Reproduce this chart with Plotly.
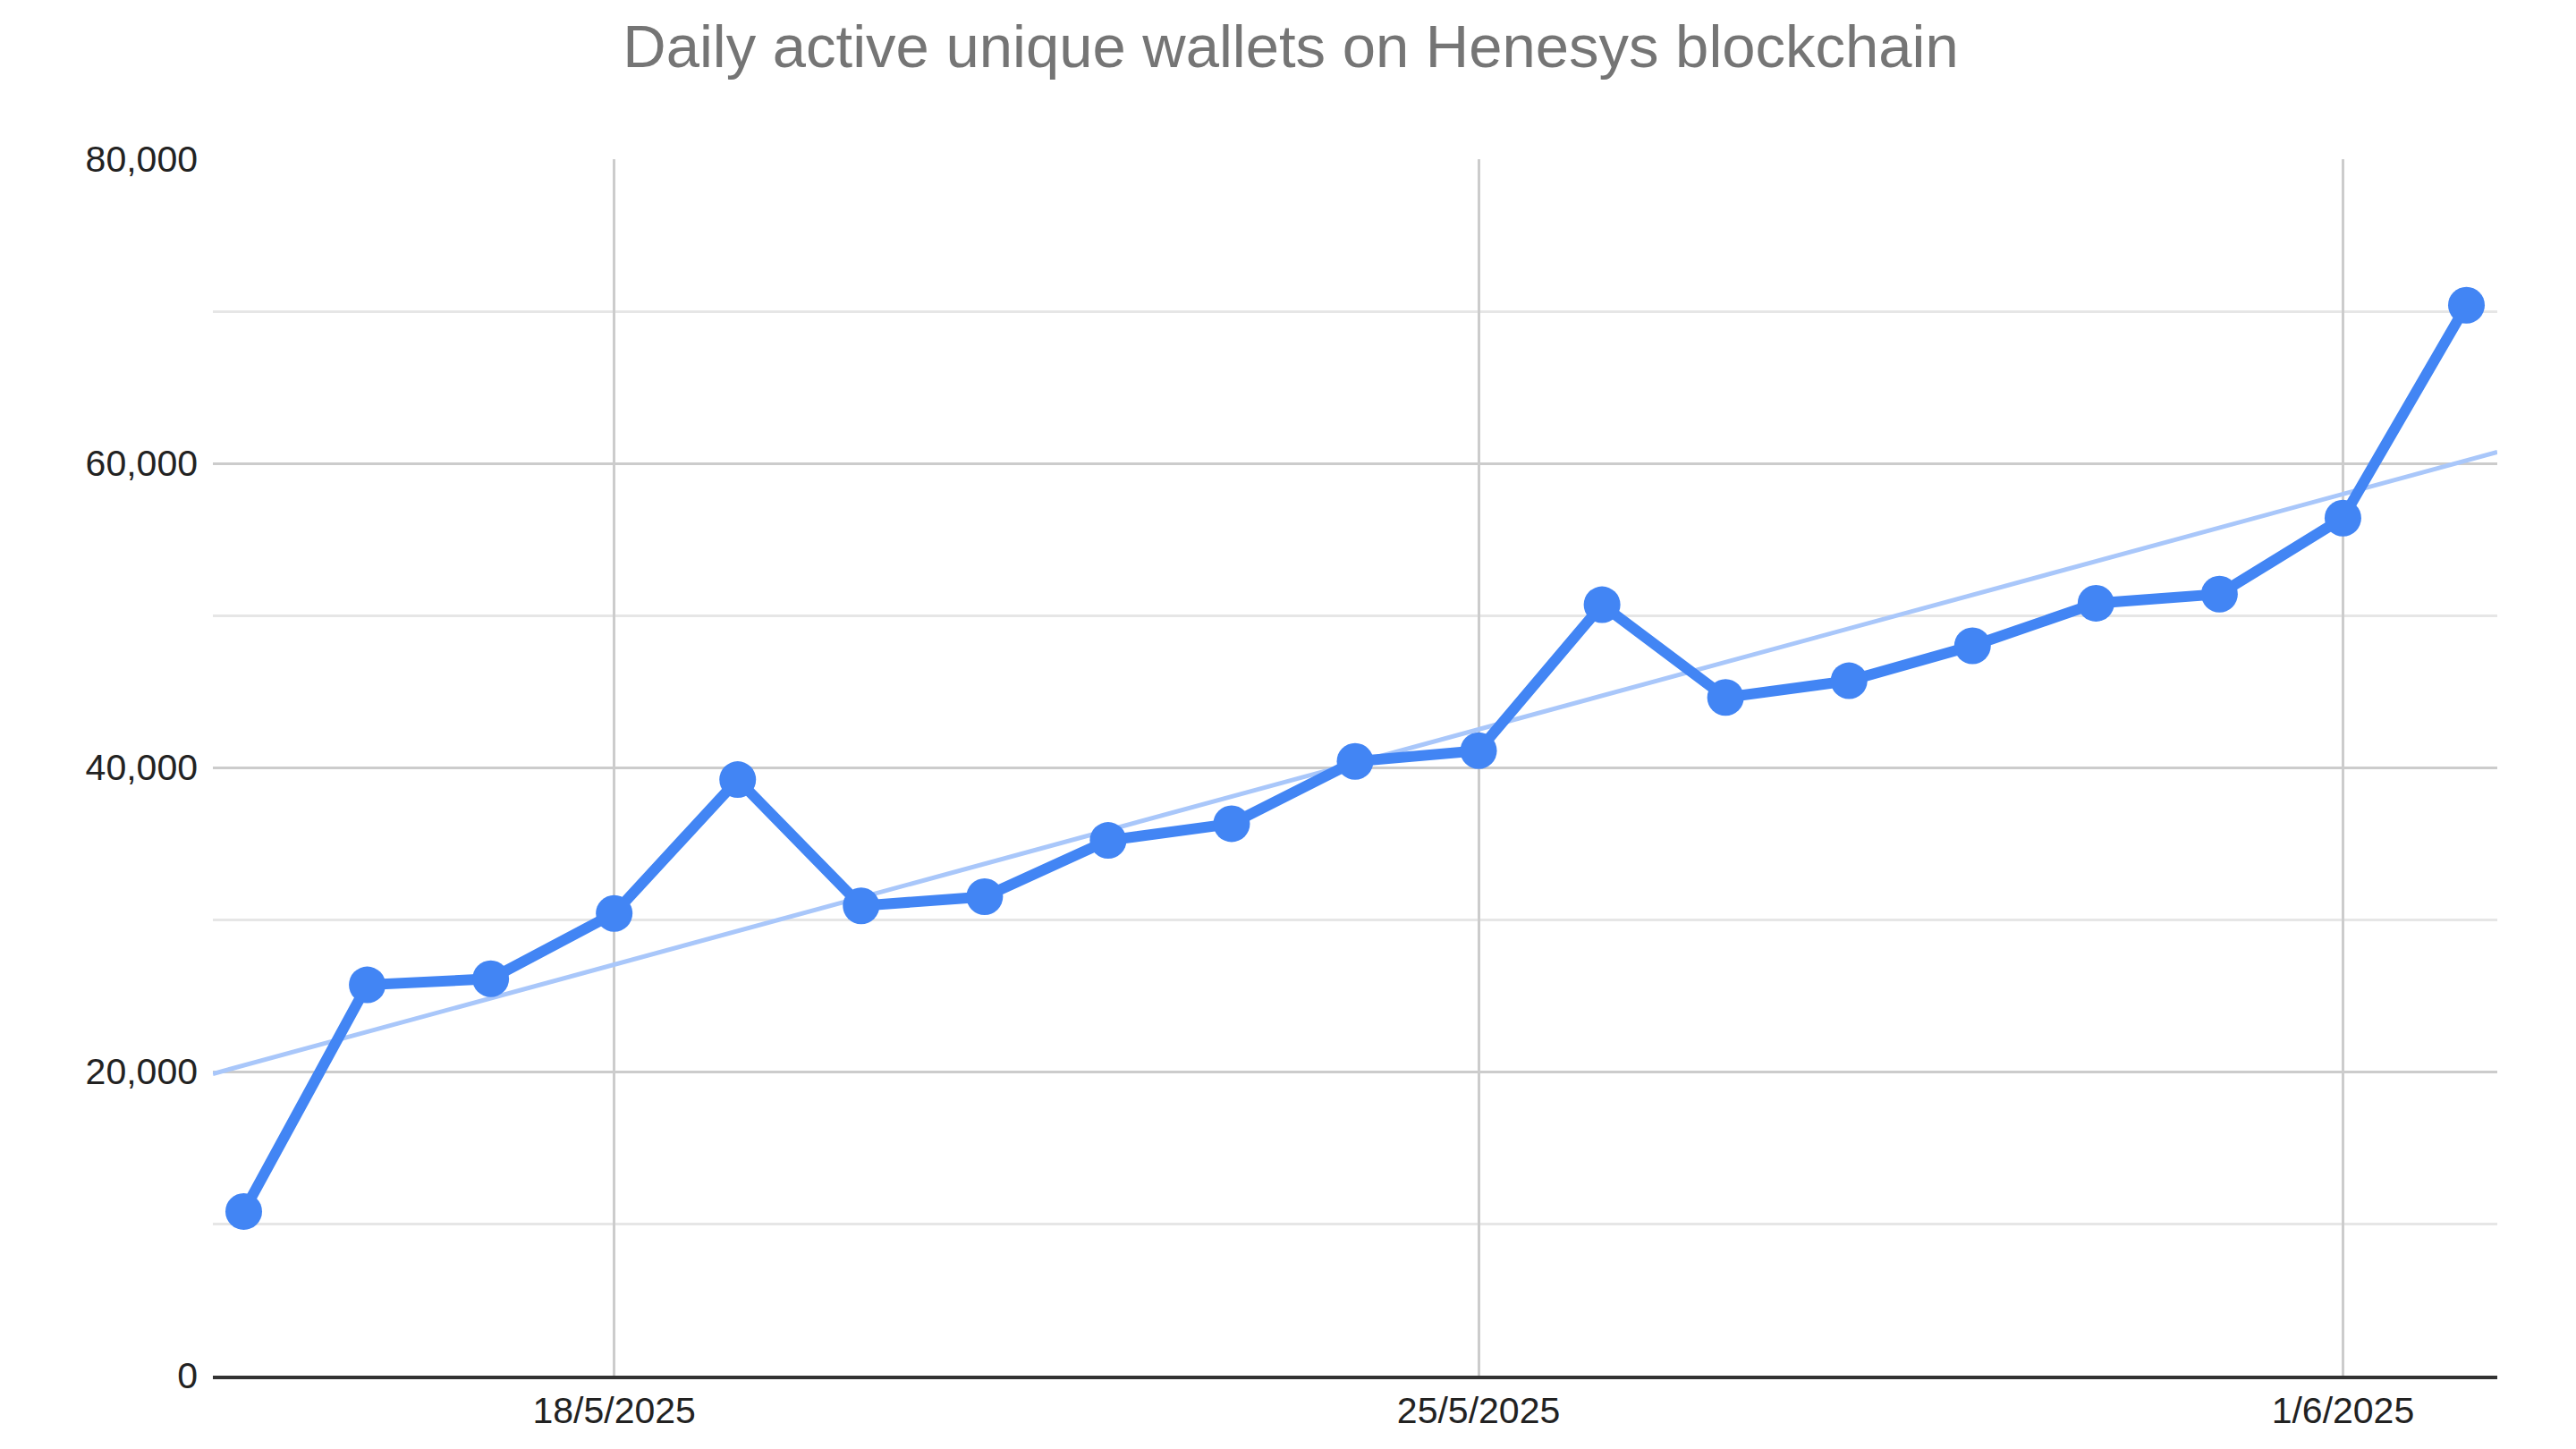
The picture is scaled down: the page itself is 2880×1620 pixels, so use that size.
import numpy as np
import pandas as pd
import plotly.graph_objects as go

# ---- data ----
dates = ["2025-05-15", "2025-05-16", "2025-05-17", "2025-05-18", "2025-05-19",
         "2025-05-20", "2025-05-21", "2025-05-22", "2025-05-23", "2025-05-24",
         "2025-05-25", "2025-05-26", "2025-05-27", "2025-05-28", "2025-05-29",
         "2025-05-30", "2025-05-31", "2025-06-01", "2025-06-02"]
wallets = [10800, 25700, 26100, 30400, 39200, 30900, 31500, 35200, 36300, 40400,
           41100, 50700, 44600, 45700, 48000, 50800, 51400, 56400, 70400]
tick_dates = ["2025-05-18", "2025-05-25", "2025-06-01"]
tick_labels = ["18/5/2025", "25/5/2025", "1/6/2025"]
y_tick_vals = [0, 20000, 40000, 60000, 80000]
y_tick_labels = ["0", "20,000", "40,000", "60,000", "80,000"]
title_text = "Daily active unique wallets on Henesys blockchain"

# ---- axis range (style) ----
x_start = pd.Timestamp("2025-05-14 18:00")
x_end = pd.Timestamp("2025-06-02 06:00")

d = pd.to_datetime(dates)
t0 = d[0]
xd = np.array([(v - t0).total_seconds() / 86400 for v in d])
slope, intercept = np.polyfit(xd, np.array(wallets, dtype=float), 1)
trend_x = [x_start, x_end]
trend_xd = np.array([(v - t0).total_seconds() / 86400 for v in trend_x])
trend_y = slope * trend_xd + intercept

fig = go.Figure()
fig.add_trace(go.Scatter(
    x=trend_x, y=trend_y, mode="lines",
    line=dict(color="#a9c7fa", width=5),
    hoverinfo="skip", showlegend=False,
))
fig.add_trace(go.Scatter(
    x=d, y=wallets, mode="lines+markers",
    line=dict(color="#4285F4", width=12),
    marker=dict(color="#4285F4", size=41),
    showlegend=False,
))

# page body has an 8px margin, compensate so the plot lands at the same pixels
W, H = 2864, 1604
fig.update_layout(
    width=W, height=H,
    paper_bgcolor="white", plot_bgcolor="white",
    margin=dict(l=230, r=W - (2792 - 8), t=170, b=H - (1540 - 8)),
    font=dict(family="Liberation Sans, Arial, sans-serif", size=41, color="#222222"),
    title=dict(
        text=title_text, x=(1443 - 8) / W, xanchor="center",
        y=1 - (52 - 8) / H, yanchor="middle", yref="container",
        font=dict(family="Liberation Sans, Arial, sans-serif", size=67, color="#757575"),
    ),
    showlegend=False,
)
fig.update_xaxes(
    type="date", range=[x_start, x_end],
    tickvals=tick_dates, ticktext=tick_labels,
    showgrid=True, gridcolor="#cccccc", gridwidth=3,
    showline=True, linecolor="#333333", linewidth=4,
    zeroline=False, ticks="",
    tickfont=dict(size=41, color="#222222"),
)
fig.update_yaxes(
    range=[0, 80000],
    tickvals=y_tick_vals, ticktext=y_tick_labels,
    showgrid=True, gridcolor="#cccccc", gridwidth=3,
    minor=dict(dtick=10000, tick0=0, showgrid=True, gridcolor="#e6e6e6", gridwidth=3),
    zeroline=False, showline=False, ticks="",
    ticklabelstandoff=16,
    tickfont=dict(size=41, color="#222222"),
)

fig.write_html("out.html")
